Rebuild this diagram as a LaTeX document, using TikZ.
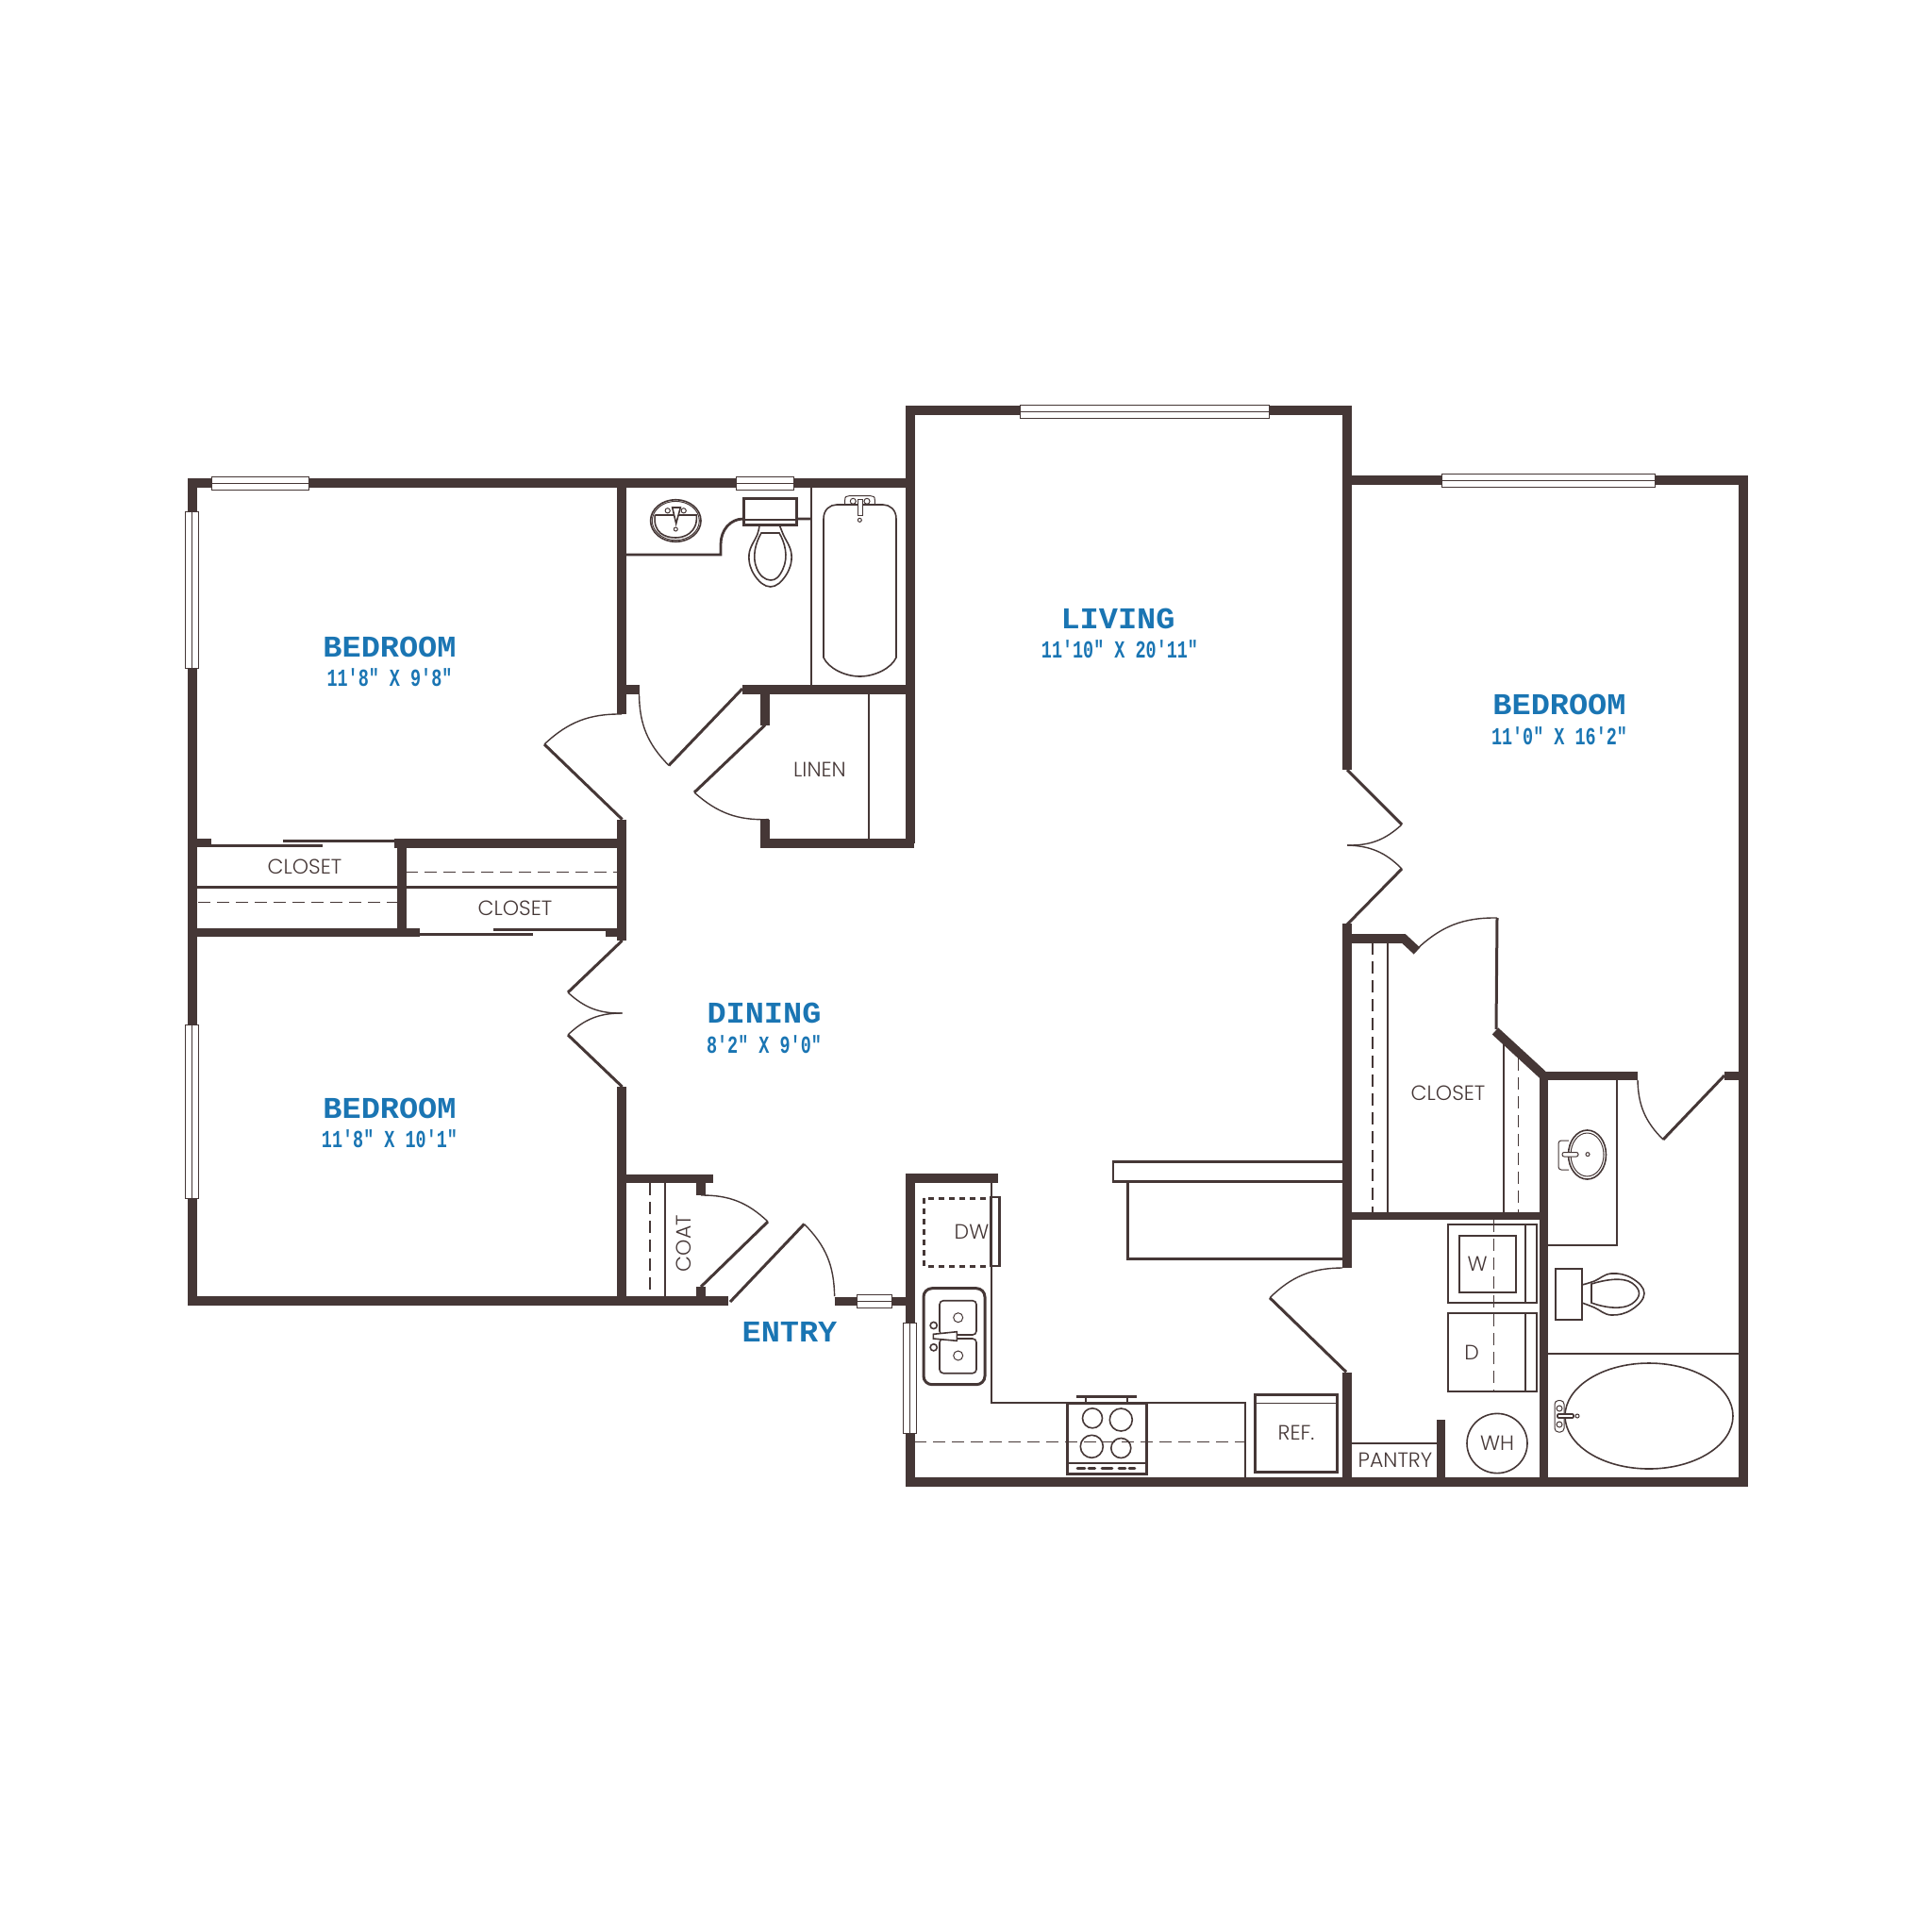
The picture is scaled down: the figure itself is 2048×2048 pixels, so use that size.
\documentclass[tikz,border=0pt]{standalone}
\usepackage{fontspec}
\setmainfont{Poppins Light}
\newfontfamily\labfont[FakeStretch=1.05]{Liberation Mono}
\newfontfamily\dimfont[FakeStretch=0.71]{Liberation Mono}
\definecolor{wallc}{HTML}{453736}
\definecolor{labc}{HTML}{1A75B3}
\tikzset{
  wall/.style={draw=wallc,line width=9.6pt,line join=miter},
  leaf/.style={draw=wallc,line width=3pt},
  swing/.style={draw=wallc,line width=1.4pt},
  thin wall/.style={draw=wallc,line width=2.8pt},
  fixture/.style={draw=wallc,line width=1.6pt},
  hair/.style={draw=wallc,line width=1pt},
  dash line/.style={draw=wallc,line width=1.3pt,dash pattern=on 13pt off 7pt},
  glass/.style={draw=wallc,line width=1pt,fill=white},
  room/.style={text=labc,font=\labfont\bfseries\fontsize{32}{32}\selectfont,inner sep=0pt},
  size/.style={text=labc,font=\dimfont\bfseries\fontsize{26}{26}\selectfont,inner sep=0pt},
  tag/.style={text=wallc,font=\fontsize{22}{22}\selectfont,inner sep=0pt},
}
\begin{document}
\begin{tikzpicture}[x=1pt,y=-1pt]
\useasboundingbox (0,0) rectangle (2048,2048);
% ---- main walls
\draw[wall] (772,1379) -- (204,1379) -- (204,512) -- (964.7,512);
\draw[wall] (964.7,894) -- (964.7,435) -- (1428,435) -- (1428,816);
\draw[wall] (1428,509) -- (1848,509) -- (1848,1571) -- (964.7,1571) -- (964.7,1249) -- (1058,1249);
\draw[wall] (659,508) -- (659,757);
\draw[wall] (659,868.6) -- (659,997);
\draw[wall] (659,1152) -- (659,1379);
\draw[wall] (884.6,1379.5) -- (969,1379.5);
\draw[wall] (654.5,731) -- (677.5,731);
\draw[wall] (787,731) -- (969,731);
\draw[wall] (811,731) -- (811,768.6);
\draw[wall] (811,868.6) -- (811,894) -- (969,894);
\draw[wall] (418,894) -- (659,894);
\draw[wall] (208,893.5) -- (224.4,893.5);
\draw[wall] (426,894) -- (426,989);
\draw[wall] (204,988.5) -- (445,988.5);
\draw[wall] (642,988.5) -- (655,988.5);
\draw[wall] (659,1249.5) -- (755.5,1249.5);
\draw[wall] (743,1254) -- (743,1267);
\draw[wall] (743,1364) -- (743,1375);
\draw[wall] (1428,979) -- (1428,1344);
\draw[wall] (1428,1455) -- (1428,1571);
\draw[wall] (1428,995) -- (1488,995) -- (1502,1008);
\draw[wall] (1585,1093) -- (1635,1139);
\draw[wall] (1632,1140.5) -- (1736,1140.5);
\draw[wall] (1828,1140.5) -- (1848,1140.5);
\draw[wall] (1636.5,1136) -- (1636.5,1571);
\draw[wall,line width=8pt] (1428,1289) -- (1632,1289);
\draw[wall] (1527.5,1505) -- (1527.5,1571);
% ---- door leaves and swings
\draw[leaf] (659.6,868.6) -- (577,789);
\draw[swing] (577,789) to[bend left=22] (659,757);
\draw[leaf] (787,730) -- (709,811.4);
\draw[swing] (677.5,736) to[bend right=22] (709,811.4);
\draw[leaf] (811,768.6) -- (736,840);
\draw[swing] (736,840) to[bend right=22] (815,868.6);
\draw[leaf] (1428,816) -- (1486,874);
\draw[swing] (1486,874) to[bend left=22] (1428,896);
\draw[swing] (1428,896) to[bend left=22] (1486,921);
\draw[leaf] (1486,921) -- (1428,980);
\draw[leaf] (659.6,997) -- (602,1052);
\draw[swing] (602,1052) to[bend right=22] (659.6,1074);
\draw[swing] (659.6,1074) to[bend right=22] (602,1097);
\draw[leaf] (602,1097) -- (659.6,1152);
\draw[swing] (743,1267) to[bend left=22] (814,1295);
\draw[leaf] (814,1295) -- (743,1364);
\draw[leaf] (774,1380) -- (852.5,1297.5);
\draw[swing] (852.5,1297.5) to[bend left=22] (884.6,1374);
\draw[swing] (1502,1006) to[bend left=22] (1587,973);
\draw[leaf] (1587,973) -- (1586,1091);
\draw[swing] (1736,1145) to[bend right=22] (1763,1208);
\draw[leaf] (1763,1208) -- (1828,1140);
\draw[swing] (1423,1344) to[bend right=22] (1346,1375.7);
\draw[leaf] (1346,1375.7) -- (1427,1454.3);
% ---- sliding closet doors
\draw[leaf] (224,896) -- (342,896);
\draw[leaf] (300,891.4) -- (418,891.4);
\draw[leaf] (445,990.7) -- (565,990.7);
\draw[leaf] (523,985.7) -- (642,985.7);
% ---- thin partitions
\draw[thin wall] (208,940.7) -- (655,940.7);
\draw[dash line] (430,924.6) -- (655,924.6);
\draw[dash line] (210,956.8) -- (430,956.8);
\draw[thin wall] (921,736) -- (921,889);
\draw[thin wall] (860,516) -- (860,727);
\draw[thin wall] (664,588) -- (764,588) -- (764,577) .. controls (764,562) and (774,550) .. (788,550) -- (860,550);
\draw[dash line] (689,1254) -- (689,1374);
\draw[thin wall] (705,1254) -- (705,1374);
\draw[dash line] (1455,999) -- (1455,1285);
\draw[thin wall] (1471,999) -- (1471,1285);
\draw[thin wall] (1594,1106) -- (1594,1285);
\draw[dash line] (1609.5,1122) -- (1609.5,1285);
\draw[thin wall] (1641,1320) -- (1714,1320) -- (1714,1145);
\draw[thin wall] (1641,1435) -- (1843,1435);
\draw[thin wall] (1432,1530) -- (1523,1530);
% ---- windows
\foreach \xa/\xb/\yy in {224.4/327/512, 780.7/841.3/512, 1081/1345/436.5, 1528/1754/509.5, 908/945/1379.5}{
  \draw[glass] (\xa,\yy-7) rectangle (\xb,\yy+7);
  \draw[hair] (\xa,\yy) -- (\xb,\yy);
}
\foreach \yya/\yyb/\xx in {542.5/708.6/203.8, 1086/1270.7/203.8, 1402/1519/964.7}{
  \draw[glass] (\xx-7,\yya) rectangle (\xx+7,\yyb);
  \draw[hair] (\xx,\yya) -- (\xx,\yyb);
}
% ---- hall bath fixtures
\draw[fixture] (716.3,552) ellipse [x radius=26.7,y radius=22.3];
\draw[hair] (716.3,552) ellipse [x radius=25,y radius=20.6];
\draw[fixture] (694.3,546) -- (738.3,546) .. controls (740,565) and (725,570) .. (716.3,570) .. controls (705,570) and (692,565) .. (694.3,546);
\draw[hair] (707.7,541.3) circle (2.6) (724.7,541.3) circle (2.6) (716.3,561) circle (2);
\draw[fixture,fill=white] (712.7,538) -- (721.3,538) -- (716.7,555) -- cycle;
\draw[draw=wallc,line width=3pt,fill=white] (788,528) rectangle (844,556);
\draw[fixture] (788,551) -- (844,551);
\draw[fixture] plot[smooth,tension=0.7] coordinates {(805,556) (803,566) (794,588) (800,610) (816.7,622) (833,610) (839,588) (830,566) (826,556)};
\draw[fixture] (807,565) -- (826,565) .. controls (832,575) and (836,590) .. (830,603) .. controls (826,612) and (822,615) .. (817,615) .. controls (811,615) and (805,610) .. (802,602) .. controls (797,590) and (801,575) .. (807,565) -- cycle;
\draw[hair] (895.7,535.7) -- (895.7,530) .. controls (895.7,526.5) and (897,525.7) .. (900,525.7) -- (923,525.7) .. controls (926,525.7) and (927.3,526.5) .. (927.3,530) -- (927.3,535.7);
\draw[fixture] (873,550) .. controls (873,540) and (880,535) .. (887,535) -- (936,535) .. controls (943,535) and (950,540) .. (950,550) -- (950,697) .. controls (945,708) and (928,717) .. (911.5,717) .. controls (895,717) and (878,708) .. (873,697) -- cycle;
\draw[hair] (904.3,531.3) circle (3) (919,531.3) circle (3) (911.3,551.3) circle (2);
\draw[hair,fill=white] (909.3,529) rectangle (914,546.7);
% ---- laundry and closets
\draw[fixture,line width=2.2pt] (1535,1298) rectangle (1629,1381) (1535,1392) rectangle (1629,1475);
\draw[fixture] (1617,1298) -- (1617,1381) (1617,1392) -- (1617,1475);
\draw[fixture] (1547,1310) rectangle (1607,1370);
\draw[dash line,line width=1pt] (1583,1293) -- (1583,1474);
\draw[fixture] (1587,1530) ellipse [x radius=32,y radius=31.6];
% ---- master bath fixtures
\draw[fixture] (1682.5,1224) ellipse [x radius=20,y radius=26];
\draw[hair] (1682.5,1224) ellipse [x radius=17.5,y radius=23];
\draw[hair,rounded corners=3pt] (1663,1209) -- (1652,1209) -- (1652,1240) -- (1663,1240);
\draw[hair,fill=white,rounded corners=2pt] (1656,1221.5) rectangle (1673,1226);
\draw[hair] (1683,1223.6) circle (2);
\draw[thin wall] (1649,1345) rectangle (1677,1399);
\draw[fixture] plot[smooth,tension=0.7] coordinates {(1677,1362) (1690,1358) (1708,1350) (1730,1355) (1743,1371) (1730,1388) (1708,1394) (1690,1386) (1677,1381)};
\draw[fixture] (1687,1361) .. controls (1700,1357) and (1720,1353) .. (1730,1360) .. controls (1740,1367) and (1740,1375) .. (1730,1382) .. controls (1720,1389) and (1700,1386) .. (1687,1381) -- cycle;
\draw[fixture] (1748,1501) ellipse [x radius=89,y radius=56];
\draw[hair,rounded corners=4pt] (1648,1518) rectangle (1658,1484.5);
\draw[hair] (1653,1493) circle (3) (1653,1510) circle (3) (1672,1501) circle (2);
\draw[fixture,fill=white,rounded corners=1pt] (1651,1499) rectangle (1668,1503);
% ---- kitchen
\draw[thin wall] (1051,1254) -- (1051,1487) -- (1320,1487) -- (1320,1566);
\draw[draw=wallc,line width=3pt,dash pattern=on 6pt off 5pt] (979,1270) rectangle (1050,1342);
\draw[thin wall] (1050,1269) rectangle (1059.5,1342);
\draw[draw=wallc,line width=3pt,rounded corners=9pt] (979,1365.7) rectangle (1044,1467.7);
\draw[fixture,rounded corners=4pt] (996,1378.7) rectangle (1035,1415) (996,1419) rectangle (1035,1455.7);
\draw[hair] (1015.7,1396.7) circle (5) (1015.7,1437) circle (5);
\draw[fixture] (989.7,1405) circle (3.6) (989.7,1428.3) circle (3.6);
\draw[fixture,fill=white] (989.3,1414.3) -- (1014.3,1411.7) -- (1014.3,1421.3) -- (989.3,1419) -- cycle;
\draw[dash line] (969,1528.7) -- (1319,1528.7);
\draw[draw=wallc,line width=3pt] (1131,1487) rectangle (1215,1562.7);
\draw[draw=wallc,line width=3pt] (1141,1480.7) -- (1205,1480.7);
\draw[fixture] (1150.7,1481) -- (1150.7,1487) (1195,1481) -- (1195,1487);
\draw[fixture] (1158,1503.3) circle (10.5) (1188.3,1505) circle (12) (1157.3,1533.3) circle (12) (1188.3,1535) circle (10.5);
\draw[fixture] (1131,1550.7) -- (1215,1550.7);
\draw[draw=wallc,line width=2.6pt,line cap=round] (1142,1556.3) -- (1150,1556.3) (1154,1556.3) -- (1160.7,1556.3) (1168,1556.3) -- (1179,1556.3) (1186,1556.3) -- (1193,1556.3) (1197,1556.3) -- (1203,1556.3);
\draw[draw=wallc,line width=3pt] (1330,1478) rectangle (1417.7,1560);
\draw[fixture] (1330,1487.3) -- (1417.7,1487.3);
\draw[thin wall] (1423,1231.7) -- (1180,1231.7) -- (1180,1252.3) -- (1423,1252.3);
\draw[draw=wallc,line width=3pt] (1195,1252.3) -- (1195,1334) -- (1423,1334);
% ---- labels
\node[room] (bedA) at (413,686) {BEDROOM};
\node[size] (bedAs) at (413,718) {11'8" X 9'8"};
\node[room] (bedB) at (413,1175) {BEDROOM};
\node[size] (bedBs) at (413,1207.5) {11'8" X 10'1"};
\node[room] (din) at (810,1074) {DINING};
\node[size] (dins) at (810,1107) {8'2" X 9'0"};
\node[room] (liv) at (1185,655.6) {LIVING};
\node[size] (livs) at (1187,688) {11'10" X 20'11"};
\node[room] (bedC) at (1653,747) {BEDROOM};
\node[size] (bedCs) at (1653,780) {11'0" X 16'2"};
\node[room] (ent) at (837,1412) {ENTRY};
\node[tag] (cloA) at (323,918.6) {CLOSET};
\node[tag] (cloB) at (546,963) {CLOSET};
\node[tag] (cloC) at (1535,1159) {CLOSET};
\node[tag] (lin) at (869,816) {LINEN};
\node[tag,rotate=90] (coat) at (724.4,1318) {COAT};
\node[tag] (dw) at (1030,1305.7) {DW};
\node[tag] (ref) at (1374,1519.3) {REF.};
\node[tag] (pan) at (1479,1548) {PANTRY};
\node[tag] (wa) at (1566,1340) {W};
\node[tag] (dr) at (1560,1434) {D};
\node[tag] (wh) at (1587,1530) {WH};
\end{tikzpicture}
\end{document}
